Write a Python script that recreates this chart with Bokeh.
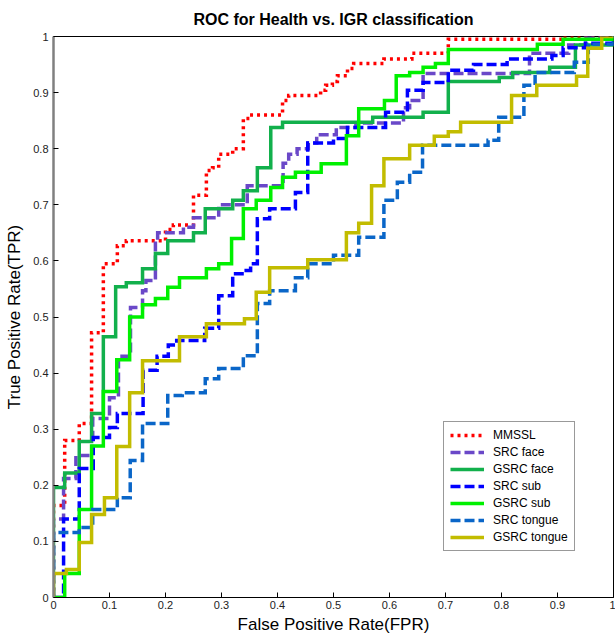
from bokeh.plotting import figure
from bokeh.models import FixedTicker, CustomJSTickFormatter, Legend, LegendItem
from bokeh.embed import file_html
from bokeh.resources import INLINE

# ---- data: ROC step corners (fpr where the riser is, tpr at the top of the riser) ----
names = ["MMSSL", "SRC face", "GSRC face", "SRC sub", "GSRC sub", "SRC tongue", "GSRC tongue"]

fpr_mmssl = [0, 0, 0.02, 0.046, 0.068, 0.089, 0.114, 0.13, 0.2, 0.214, 0.25, 0.273, 0.284, 0.295,
             0.32, 0.339, 0.35, 0.409, 0.42, 0.477, 0.486, 0.498, 0.507, 0.525, 0.536, 0.59, 0.64,
             0.705, 0.91, 1.0]
tpr_mmssl = [0, 0.164, 0.28, 0.31, 0.472, 0.595, 0.627, 0.636, 0.656, 0.664, 0.717, 0.761, 0.766,
             0.79, 0.80, 0.854, 0.86, 0.886, 0.895, 0.904, 0.913, 0.92, 0.93, 0.943, 0.952, 0.96,
             0.97, 0.995, 1.0, 1.0]

fpr_src_face = [0, 0, 0.018, 0.04, 0.07, 0.1, 0.116, 0.1375, 0.159, 0.165, 0.182, 0.186, 0.232,
                0.25, 0.295, 0.346, 0.41, 0.42, 0.435, 0.455, 0.47, 0.505, 0.54, 0.625, 0.636,
                0.66, 0.85, 0.92, 0.95, 1.0]
tpr_src_face = [0, 0.14, 0.212, 0.253, 0.319, 0.356, 0.43, 0.517, 0.547, 0.565, 0.636, 0.65, 0.66,
                0.677, 0.70, 0.734, 0.774, 0.79, 0.80, 0.81, 0.825, 0.838, 0.846, 0.873, 0.886,
                0.934, 0.97, 0.985, 1.0, 1.0]

fpr_gsrc_face = [0, 0, 0.02, 0.046, 0.068, 0.089, 0.111, 0.13, 0.159, 0.182, 0.204, 0.25, 0.271,
                 0.32, 0.339, 0.364, 0.388, 0.409, 0.57, 0.66, 0.705, 0.796, 0.82, 0.886, 0.932, 1.0]
tpr_gsrc_face = [0, 0.196, 0.222, 0.278, 0.328, 0.465, 0.554, 0.561, 0.586, 0.613, 0.636, 0.65,
                 0.693, 0.708, 0.725, 0.766, 0.838, 0.847, 0.856, 0.865, 0.92, 0.927, 0.936, 0.945,
                 0.985, 1.0]

fpr_src_sub = [0, 0.018, 0.046, 0.071, 0.1, 0.114, 0.16, 0.185, 0.205, 0.22, 0.27, 0.295, 0.32,
               0.34, 0.352, 0.364, 0.386, 0.432, 0.454, 0.5, 0.525, 0.593, 0.632, 0.66, 0.705,
               0.75, 0.81, 0.89, 0.91, 0.95, 1.0]
tpr_src_sub = [0, 0.14, 0.23, 0.285, 0.303, 0.328, 0.405, 0.43, 0.45, 0.458, 0.48, 0.538, 0.577,
               0.583, 0.595, 0.675, 0.693, 0.722, 0.81, 0.818, 0.838, 0.865, 0.904, 0.918, 0.94,
               0.95, 0.96, 0.966, 0.98, 0.988, 1.0]

fpr_gsrc_sub = [0, 0.02, 0.046, 0.068, 0.089, 0.113, 0.136, 0.159, 0.182, 0.204, 0.225, 0.273,
                0.295, 0.318, 0.339, 0.362, 0.388, 0.409, 0.432, 0.478, 0.523, 0.545, 0.591, 0.612,
                0.636, 0.66, 0.682, 0.705, 0.864, 0.91, 1.0]
tpr_gsrc_sub = [0, 0.043, 0.157, 0.27, 0.367, 0.424, 0.5, 0.522, 0.533, 0.553, 0.57, 0.586, 0.595,
                0.64, 0.693, 0.708, 0.731, 0.749, 0.758, 0.773, 0.823, 0.871, 0.886, 0.93, 0.936,
                0.945, 0.952, 0.977, 0.986, 0.995, 1.0]

fpr_src_tongue = [0, 0, 0.046, 0.07, 0.114, 0.137, 0.159, 0.204, 0.23, 0.271, 0.295, 0.339, 0.364,
                  0.386, 0.432, 0.454, 0.5, 0.545, 0.59, 0.614, 0.636, 0.659, 0.776, 0.795, 0.84,
                  0.86, 0.93, 0.955, 1.0]
tpr_src_tongue = [0, 0.116, 0.125, 0.157, 0.178, 0.244, 0.31, 0.36, 0.365, 0.39, 0.408, 0.431,
                  0.524, 0.547, 0.57, 0.595, 0.61, 0.642, 0.708, 0.74, 0.758, 0.806, 0.815, 0.856,
                  0.913, 0.936, 0.954, 0.986, 1.0]

fpr_gsrc_tongue = [0, 0, 0.023, 0.046, 0.068, 0.091, 0.113, 0.136, 0.159, 0.225, 0.273, 0.341,
                   0.362, 0.386, 0.454, 0.523, 0.545, 0.568, 0.59, 0.636, 0.68, 0.705, 0.727, 0.818,
                   0.863, 0.934, 0.954, 0.979, 1.0]
tpr_gsrc_tongue = [0, 0.043, 0.05, 0.098, 0.148, 0.178, 0.269, 0.365, 0.422, 0.465, 0.488, 0.497,
                   0.544, 0.588, 0.602, 0.65, 0.667, 0.734, 0.782, 0.806, 0.822, 0.83, 0.847, 0.895,
                   0.913, 0.929, 0.979, 1.0, 1.0]

tick_values = [0, 0.1, 0.2, 0.3, 0.4, 0.5, 0.6, 0.7, 0.8, 0.9, 1]

series = [
    (fpr_mmssl, tpr_mmssl, "#ff0000", "3 4"),
    (fpr_src_face, tpr_src_face, "#6a48c8", "10 4"),
    (fpr_gsrc_face, tpr_gsrc_face, "#12b04c", "solid"),
    (fpr_src_sub, tpr_src_sub, "#0000ff", "10 4"),
    (fpr_gsrc_sub, tpr_gsrc_sub, "#00f000", "solid"),
    (fpr_src_tongue, tpr_src_tongue, "#0a66c8", "10 4"),
    (fpr_gsrc_tongue, tpr_gsrc_tongue, "#c2bc00", "solid"),
]

FONT = "Liberation Sans"

p = figure(width=615, height=636, x_range=(0, 1), y_range=(0, 1),
           output_backend="svg", toolbar_location=None,
           title="ROC for Health vs. IGR classification",
           min_border_left=53, min_border_right=2, min_border_top=36, min_border_bottom=38)

p.title.align = "center"
p.title.text_font = FONT
p.title.text_font_size = "16px"
p.title.text_font_style = "bold"
p.title.text_color = "#000000"
p.title.standoff = 17

p.xgrid.visible = False
p.ygrid.visible = False
p.outline_line_color = "#000000"
p.outline_line_width = 1
p.background_fill_color = "white"
p.border_fill_color = "white"

for ax in (p.xaxis[0], p.yaxis[0]):
    ax.ticker = FixedTicker(ticks=tick_values)
    ax.formatter = CustomJSTickFormatter(code="return String(Math.round(tick*10)/10);")
    ax.minor_tick_line_color = None
    ax.major_tick_in = 5
    ax.major_tick_out = 0
    ax.major_tick_line_color = "#000000"
    ax.major_label_text_font = FONT
    ax.major_label_text_font_size = "11px"
    ax.major_label_text_color = "#222222"
    ax.major_label_standoff = 3
    ax.axis_label_text_font = FONT
    ax.axis_label_text_font_size = "17px"
    ax.axis_label_text_font_style = "normal"
    ax.axis_label_text_color = "#000000"
    ax.axis_label_standoff = 3

p.xaxis.axis_label = "False Positive Rate(FPR)"
p.yaxis.axis_label = "True Positive Rate(TPR)"
p.yaxis.major_label_standoff = 5
p.yaxis.axis_label_standoff = 6
p.xaxis.axis_line_color = "#000000"
p.xaxis.axis_line_width = 1
p.yaxis.axis_line_color = "#808080"
p.yaxis.axis_line_width = 2.5

items = []
for name, (xs, ys, color, dash) in zip(names, series):
    r = p.step(xs, ys, mode="after", line_color=color, line_width=3.5,
               line_dash=dash, line_cap="butt", line_join="miter")
    items.append(LegendItem(label=name, renderers=[r]))

legend = Legend(items=items, location=(390, 46))
legend.label_text_font = FONT
legend.label_text_font_size = "12px"
legend.label_text_color = "#000000"
legend.glyph_width = 34
legend.glyph_height = 14
legend.label_height = 14
legend.label_standoff = 9
legend.spacing = 3
legend.padding = 6
legend.margin = 0
legend.border_line_color = "#333333"
legend.border_line_width = 1
legend.background_fill_color = "white"
legend.background_fill_alpha = 1.0
p.add_layout(legend)

open("out.html", "w").write(file_html(p, INLINE))
